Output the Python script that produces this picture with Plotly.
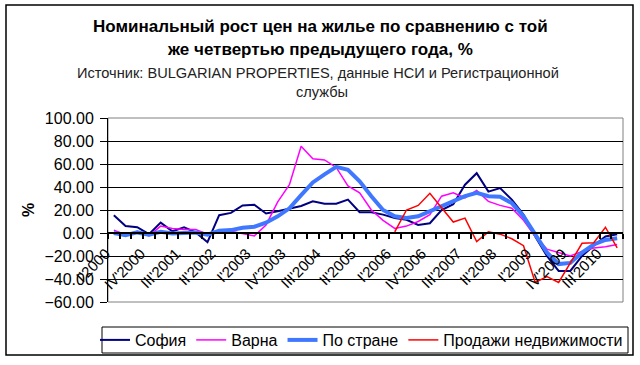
import plotly.graph_objects as go

quarters = [
    "I'2000", "II'2000", "III'2000", "IV'2000",
    "I'2001", "II'2001", "III'2001", "IV'2001",
    "I'2002", "II'2002", "III'2002", "IV'2002",
    "I'2003", "II'2003", "III'2003", "IV'2003",
    "I'2004", "II'2004", "III'2004", "IV'2004",
    "I'2005", "II'2005", "III'2005", "IV'2005",
    "I'2006", "II'2006", "III'2006", "IV'2006",
    "I'2007", "II'2007", "III'2007", "IV'2007",
    "I'2008", "II'2008", "III'2008", "IV'2008",
    "I'2009", "II'2009", "III'2009", "IV'2009",
    "I'2010", "II'2010", "III'2010", "IV'2010",
]

sofia = [15.5, 6, 5, -1, 9, 1.5, 5, 0.5, -8, 15.5, 17.5, 24, 24.5, 17, 19, 21,
         23.5, 27.5, 25.5, 25.5, 29, 18, 18, 16, 13, 11.5, 7, 8.5, 20, 25,
         42, 52, 36, 39, 29, 16, -3, -20, -33, -33, -20, -11, -3, -1]

varna = [2.5, -1.5, 1.5, -2.5, 6, 4, 3, 3, -1, 1.5, 1.5, -0.5, -2.5, 7, 27, 42,
         75.5, 64.5, 63.5, 57, 41, 35, 20, 11, 4, 6, 10, 16, 32, 35,
         30.5, 37, 27.5, 24, 21.5, 11, -3, -14, -17, -20, -16, -13, -12, -10]

country = [0, -2, 0.5, -1.5, 1, -0.5, 0, 0.5, -1.5, 2, 2.5, 4.5, 5.5, 9, 14.5, 21.5,
           33, 44, 51, 57.5, 55, 45, 32, 20, 14.5, 13, 14.5, 19, 23, 27.5,
           32, 35, 32, 31.5, 26, 14.5, -1.5, -17, -27, -26, -17, -10, -6, -4.5]

sales = [None, None, None, None, None, None, None, None, None, None, None, None,
         None, None, None, None, None, None, None, None, None, None, None, None,
         1, 20, 24, 34.5, 22, 9.5, 13, -7.5, 1, -1, -5, -11,
         -43, -38, -43, -26, -9, -8.5, 5, -13]

series_names = ["София", "Варна", "По стране", "Продажи недвижимости"]
series_colors = ["#000080", "#FF00FF", "#3F78FF", "#FF0000"]
series_widths = [2, 1.5, 4, 1.5]

FONT = "Arial, Liberation Sans, sans-serif"
x = list(range(len(quarters)))

fig = go.Figure()
for name, vals, col, w in zip(series_names, [sofia, varna, country, sales],
                              series_colors, series_widths):
    fig.add_trace(go.Scatter(x=x, y=vals, name=name, mode="lines",
                             line=dict(color=col, width=w), connectgaps=False))

W, H = 640, 365
ml, mr, mt, mb = 108, 17, 118, 63
pw, ph = W - ml - mr, H - mt - mb


def px(xp):
    return (xp - ml) / pw


def py(yp):
    return (H - mb - yp) / ph


ymin, ymax = -60, 100

fig.update_layout(
    width=W, height=H,
    margin=dict(l=ml, r=mr, t=mt, b=mb, autoexpand=False),
    paper_bgcolor="white", plot_bgcolor="white",
    font=dict(family=FONT, color="black", size=14),
    showlegend=True,
    legend=dict(orientation="h", x=px(95), y=py(340), xanchor="left", yanchor="middle",
                borderwidth=0, bgcolor="rgba(0,0,0,0)",
                font=dict(size=16, family=FONT), itemwidth=30),
    xaxis=dict(
        type="linear", range=[-0.5, len(quarters) - 0.5],
        tickvals=x[::3], ticktext=quarters[::3], tickangle=-45,
        ticks="", showgrid=False, zeroline=False,
        showline=True, linecolor="black", linewidth=2,
        anchor="free", position=(0 - ymin) / (ymax - ymin),
        tickfont=dict(size=15, family=FONT),
        ticklabelstandoff=5, ticklabelshift=-8,
        minor=dict(tick0=-0.5, dtick=1, ticks="outside", ticklen=5,
                   tickcolor="black", tickwidth=1.5, showgrid=False),
    ),
    yaxis=dict(
        range=[ymin, ymax], dtick=20, tickformat=".2f",
        showgrid=True, gridcolor="black", gridwidth=1,
        zeroline=False, showline=True, linecolor="black", linewidth=1,
        ticks="outside", ticklen=7, tickcolor="black",
        ticklabelstandoff=3,
        tickfont=dict(size=16, family=FONT),
    ),
    shapes=[
        dict(type="rect", xref="paper", yref="paper", x0=0, x1=1, y0=0, y1=1,
             line=dict(color="#808080", width=1), layer="below"),
        dict(type="rect", xref="paper", yref="paper", x0=px(6), x1=px(633),
             y0=py(355), y1=py(5), line=dict(color="black", width=1.5)),
        dict(type="rect", xref="paper", yref="paper", x0=px(102), x1=px(628),
             y0=py(353), y1=py(327), line=dict(color="black", width=1)),
    ],
    annotations=[
        dict(text="<b>Номинальный рост цен на жилье по сравнению с той</b>",
             xref="paper", yref="paper", x=px(320), y=py(27), showarrow=False,
             font=dict(size=17, family=FONT), xanchor="center", yanchor="middle"),
        dict(text="<b>же четвертью предыдущего года, %</b>",
             xref="paper", yref="paper", x=px(320), y=py(50), showarrow=False,
             font=dict(size=17, family=FONT), xanchor="center", yanchor="middle"),
        dict(text="Источник: BULGARIAN PROPERTIES, данные НСИ и Регистрационной",
             xref="paper", yref="paper", x=px(318), y=py(73), showarrow=False,
             font=dict(size=14.6, family=FONT, color="#222"), xanchor="center", yanchor="middle"),
        dict(text="службы",
             xref="paper", yref="paper", x=px(322), y=py(92), showarrow=False,
             font=dict(size=14.6, family=FONT, color="#222"), xanchor="center", yanchor="middle"),
        dict(text="<b>%</b>", textangle=-90,
             xref="paper", yref="paper", x=px(28), y=py(210), showarrow=False,
             font=dict(size=16, family=FONT), xanchor="center", yanchor="middle"),
    ],
)

fig.write_html("out.html", config={"displayModeBar": False},
               post_script="document.body.style.margin='0px';")
